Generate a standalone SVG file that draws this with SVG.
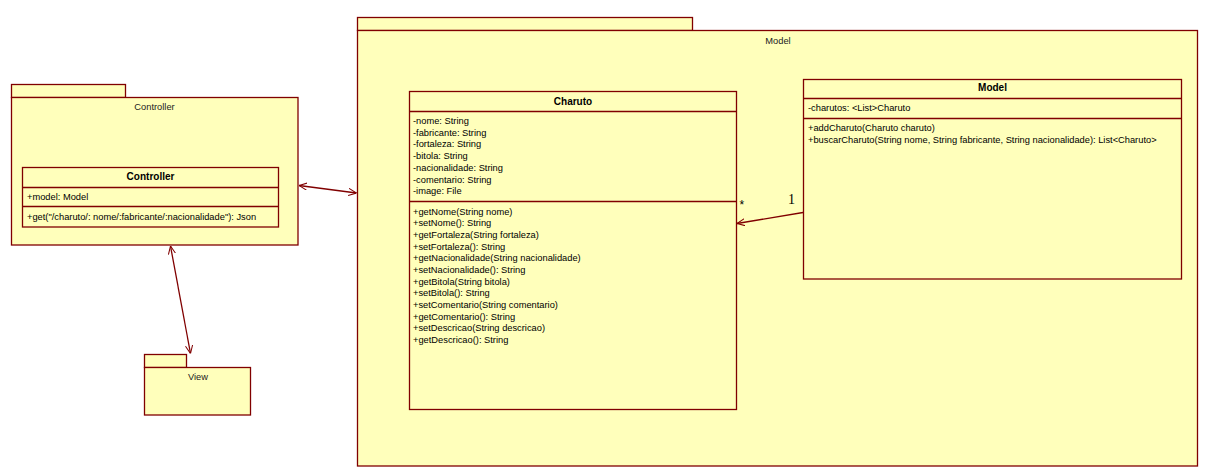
<svg xmlns="http://www.w3.org/2000/svg" width="1209" height="475" viewBox="0 0 1209 475">
<defs>
<style>
.box{fill:#FFFFBB;stroke:#800000;stroke-width:1.3}
.ln{stroke:#800000;stroke-width:1.3;fill:none}
text{font-family:"Liberation Sans",Arial,sans-serif;font-size:9.3px;fill:#000}
.t{font-weight:bold;font-size:10px;text-anchor:middle}
.pk{text-anchor:middle;fill:#222}
.c{text-anchor:middle}
.m{font-family:"Liberation Serif","Times New Roman",serif;font-size:14px;fill:#000}
.st{font-size:12px}
</style>
<marker id="open" viewBox="0 0 10 10" refX="10" refY="5" markerWidth="8" markerHeight="8" markerUnits="userSpaceOnUse" orient="auto-start-reverse">
<path d="M0,0.5 L10,5 L0,9.5" fill="none" stroke="#800000" stroke-width="1.3"/>
</marker>
</defs>
<rect width="1209" height="475" fill="#fff"/>

<g id="pkg-model">
<rect class="box" x="357.5" y="17.5" width="335" height="13"/>
<rect class="box" x="357.5" y="30.5" width="840" height="435.5"/>
<text class="pk" x="778" y="44">Model</text>
</g>

<g id="pkg-controller">
<rect class="box" x="11.5" y="84.5" width="114" height="13"/>
<rect class="box" x="11.5" y="97.5" width="286.5" height="147.5"/>
<text class="pk" x="154.5" y="110">Controller</text>
</g>

<g id="pkg-view">
<rect class="box" x="144.5" y="354.5" width="42" height="13"/>
<rect class="box" x="144.5" y="367.5" width="106" height="47.5"/>
<text class="pk" x="198" y="380">View</text>
</g>

<g id="class-controller">
<rect class="box" x="22.5" y="167.5" width="256" height="59.5"/>
<line class="ln" x1="22.5" y1="187.5" x2="278.5" y2="187.5"/>
<line class="ln" x1="22.5" y1="206.5" x2="278.5" y2="206.5"/>
<text class="t" x="150.5" y="179.5">Controller</text>
<text x="27" y="199.5">+model: Model</text>
<text x="27" y="219.5">+get("/charuto/: nome/:fabricante/:nacionalidade"): Json</text>
</g>

<g id="class-charuto">
<rect class="box" x="409.5" y="91.5" width="327" height="318"/>
<line class="ln" x1="409.5" y1="111.5" x2="736.5" y2="111.5"/>
<line class="ln" x1="409.5" y1="201.5" x2="736.5" y2="201.5"/>
<text class="t" x="573" y="104.5">Charuto</text>
<text x="413" y="124">-nome: String</text>
<text x="413" y="135.7">-fabricante: String</text>
<text x="413" y="147.4">-fortaleza: String</text>
<text x="413" y="159.1">-bitola: String</text>
<text x="413" y="170.8">-nacionalidade: String</text>
<text x="413" y="182.5">-comentario: String</text>
<text x="413" y="194.2">-image: File</text>
<text x="413" y="214.8">+getNome(String nome)</text>
<text x="413" y="226.4">+setNome(): String</text>
<text x="413" y="238.1">+getFortaleza(String fortaleza)</text>
<text x="413" y="249.7">+setFortaleza(): String</text>
<text x="413" y="261.4">+getNacionalidade(String nacionalidade)</text>
<text x="413" y="273">+setNacionalidade(): String</text>
<text x="413" y="284.6">+getBitola(String bitola)</text>
<text x="413" y="296.3">+setBitola(): String</text>
<text x="413" y="307.9">+setComentario(String comentario)</text>
<text x="413" y="319.6">+getComentario(): String</text>
<text x="413" y="331.2">+setDescricao(String descricao)</text>
<text x="413" y="342.9">+getDescricao(): String</text>
</g>

<g id="class-model">
<rect class="box" x="803.5" y="79.5" width="378" height="199.5"/>
<line class="ln" x1="803.5" y1="98.5" x2="1181.5" y2="98.5"/>
<line class="ln" x1="803.5" y1="118.5" x2="1181.5" y2="118.5"/>
<text class="t" x="992.5" y="91">Model</text>
<text x="808" y="111">-charutos: &lt;List&gt;Charuto</text>
<text x="808" y="131">+addCharuto(Charuto charuto)</text>
<text x="808" y="142.5">+buscarCharuto(String nome, String fabricante, String nacionalidade): List&lt;Charuto&gt;</text>
</g>

<g id="connectors">
<line class="ln" x1="299" y1="185.5" x2="356.5" y2="193" marker-start="url(#open)" marker-end="url(#open)"/>
<line class="ln" x1="170.5" y1="246" x2="190.5" y2="353.5" marker-start="url(#open)" marker-end="url(#open)"/>
<line class="ln" x1="803" y1="212.5" x2="737" y2="223.5" marker-end="url(#open)"/>
<text class="st" x="739.5" y="209">*</text>
<text class="m" x="788" y="203.5">1</text>
</g>
</svg>
